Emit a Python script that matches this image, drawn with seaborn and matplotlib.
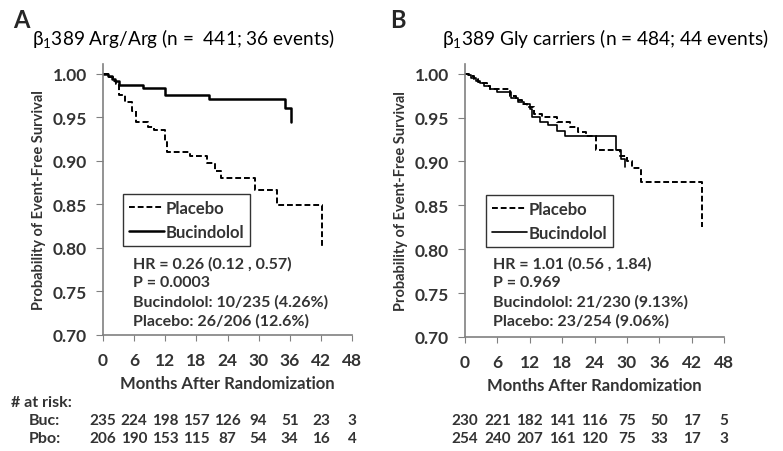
import matplotlib
matplotlib.use("Agg")
import matplotlib.pyplot as plt
import seaborn as sns
import pandas as pd

# Panel A: beta1 389 Arg/Arg
a_buc_months = [0, 1.0, 1.8, 2.4, 3.0, 7.8, 12.0, 20.5, 35.1, 36.2]
a_buc_surv = [1.0, 0.997, 0.994, 0.991, 0.987, 0.983, 0.975, 0.971, 0.961, 0.945]
a_pbo_months = [0, 1.2, 2.0, 2.6, 3.1, 4.3, 5.5, 6.4, 8.6, 9.8, 11.9, 12.3, 16.8, 20.1, 21.6, 22.8, 29.3, 33.6, 42.3]
a_pbo_surv = [1.0, 0.996, 0.992, 0.988, 0.975, 0.967, 0.957, 0.944, 0.939, 0.935, 0.922, 0.910, 0.905, 0.897, 0.888, 0.880, 0.866, 0.849, 0.802]

# Panel B: beta1 389 Gly carriers
b_buc_months = [0, 0.5, 1.2, 2.0, 2.8, 3.6, 4.6, 5.9, 8.6, 9.8, 11.0, 12.0, 12.4, 13.9, 15.4, 17.0, 18.5, 28.0, 29.0, 29.6]
b_buc_surv = [1.0, 0.998, 0.995, 0.992, 0.989, 0.986, 0.983, 0.979, 0.972, 0.968, 0.965, 0.960, 0.951, 0.945, 0.941, 0.935, 0.929, 0.9125, 0.903, 0.894]
b_pbo_months = [0, 0.8, 1.6, 2.4, 3.2, 4.0, 4.6, 8.3, 9.5, 10.5, 11.5, 12.7, 14.2, 17.0, 19.5, 21.0, 22.5, 24.2, 28.8, 30.0, 31.0, 32.6, 43.9]
b_pbo_surv = [1.0, 0.997, 0.994, 0.991, 0.989, 0.986, 0.983, 0.975, 0.970, 0.966, 0.962, 0.954, 0.951, 0.945, 0.939, 0.934, 0.929, 0.913, 0.906, 0.901, 0.892, 0.877, 0.825]

month_ticks = [0, 6, 12, 18, 24, 30, 36, 42, 48]
surv_ticks = [0.70, 0.75, 0.80, 0.85, 0.90, 0.95, 1.00]

a_risk_buc = [235, 224, 198, 157, 126, 94, 51, 23, 3]
a_risk_pbo = [206, 190, 153, 115, 87, 54, 34, 16, 4]
b_risk_buc = [230, 221, 182, 141, 116, 75, 50, 17, 5]
b_risk_pbo = [254, 240, 207, 161, 120, 75, 33, 17, 3]

a_title = "β$_1$389 Arg/Arg (n =  441; 36 events)"
b_title = "β$_1$389 Gly carriers (n = 484; 44 events)"
a_stats = ["HR = 0.26 (0.12 , 0.57)", "P = 0.0003", "Bucindolol: 10/235 (4.26%)", "Placebo: 26/206 (12.6%)"]
b_stats = ["HR = 1.01 (0.56 , 1.84)", "P = 0.969", "Bucindolol: 21/230 (9.13%)", "Placebo: 23/254 (9.06%)"]

sns.set_style("ticks")
plt.rcParams["font.family"] = ["Lato", "DejaVu Sans"]
plt.rcParams["mathtext.fontset"] = "custom"
plt.rcParams["mathtext.rm"] = "Lato"
plt.rcParams["mathtext.default"] = "rm"

TXT = "#333333"
SPINE = "#808080"

fig = plt.figure(figsize=(7.83, 4.52), dpi=100)
axA = fig.add_axes([103 / 783, 1 - 336 / 452, 249 / 783, 271 / 452])
axB = fig.add_axes([465 / 783, 1 - 338 / 452, 259 / 783, 273 / 452])


def km_panel(ax, pbo_t, pbo_s, buc_t, buc_s, buc_lw):
    pbo = pd.DataFrame({"month": pbo_t, "surv": pbo_s})
    buc = pd.DataFrame({"month": buc_t, "surv": buc_s})
    sns.lineplot(data=pbo, x="month", y="surv", ax=ax, color="black", lw=1.4,
                 linestyle=(0, (3, 1.5)), drawstyle="steps-post", estimator=None,
                 sort=False, label="Placebo")
    sns.lineplot(data=buc, x="month", y="surv", ax=ax, color="black", lw=buc_lw,
                 drawstyle="steps-post", estimator=None, sort=False, label="Bucindolol")
    ax.set_xlim(0, 48)
    ax.set_ylim(0.70, 1.011)
    ax.set_xticks(month_ticks)
    ax.set_yticks(surv_ticks)
    ax.set_yticklabels([f"{v:.2f}" for v in surv_ticks])
    sns.despine(ax=ax)
    for s in ["left", "bottom"]:
        ax.spines[s].set_color(SPINE)
        ax.spines[s].set_linewidth(1.2)
    ax.tick_params(axis="y", direction="out", length=5, color=SPINE, labelsize=12.5,
                   labelcolor=TXT, pad=6.5)
    ax.tick_params(axis="x", direction="out", length=4, color=SPINE, labelsize=12.5,
                   labelcolor=TXT, pad=8)
    for lab in ax.get_xticklabels() + ax.get_yticklabels():
        lab.set_fontweight("bold")
    ax.set_xlabel("Months After Randomization", fontsize=12, color=TXT,
                  fontweight="bold", labelpad=5)
    ax.set_ylabel("Probability of Event-Free Survival", fontsize=10.5, color=TXT,
                  fontweight="bold", labelpad=4.5)
    leg = ax.legend(loc="upper left", bbox_to_anchor=(0.08, 0.52), fancybox=False,
                    edgecolor="#333333", framealpha=1, handlelength=2.1, handletextpad=0.1,
                    fontsize=12, borderpad=0.35, labelspacing=0.5, borderaxespad=0)
    leg.get_frame().set_linewidth(1.0)
    for t in leg.get_texts():
        t.set_color(TXT)
        t.set_fontweight("bold")


km_panel(axA, a_pbo_months, a_pbo_surv, a_buc_months, a_buc_surv, 1.8)
km_panel(axB, b_pbo_months, b_pbo_surv, b_buc_months, b_buc_surv, 1.2)

# hazard ratio / event count annotations
for ax, x0, y0, lines in [(axA, 0.119, 0.266, a_stats), (axB, 0.107, 0.271, b_stats)]:
    for i, line in enumerate(lines):
        ax.text(x0, y0 - i * 0.0705, line, transform=ax.transAxes, fontsize=11.5,
                color=TXT, fontweight="bold", va="center", ha="left")

# titles and panel letters
fig.text(32 / 783, 1 - 45 / 452, a_title, fontsize=13.7, color="black", va="baseline")
fig.text(442 / 783, 1 - 45 / 452, b_title, fontsize=13.8, color="black", va="baseline")
fig.text(13 / 783, 1 - 28 / 452, "A", fontsize=17, fontweight="bold", va="baseline")
fig.text(390 / 783, 1 - 28 / 452, "B", fontsize=17, fontweight="bold", va="baseline")

# numbers at risk
fig.text(11 / 783, 1 - 403 / 452, "# at risk:", fontsize=11.5, color=TXT,
         fontweight="bold", va="center")
fig.text(29 / 783, 1 - 421 / 452, "Buc:", fontsize=11.5, color=TXT, fontweight="bold", va="center")
fig.text(29 / 783, 1 - 439 / 452, "Pbo:", fontsize=11.5, color=TXT, fontweight="bold", va="center")
for ax, rows in [(axA, [a_risk_buc, a_risk_pbo]), (axB, [b_risk_buc, b_risk_pbo])]:
    trans = matplotlib.transforms.blended_transform_factory(ax.transData, fig.transFigure)
    for row, ypix in zip(rows, [421, 439]):
        for m, n in zip(month_ticks, row):
            ax.text(m, 1 - ypix / 452, str(n), transform=trans, fontsize=11, color=TXT,
                    fontweight="bold", ha="center", va="center", clip_on=False)

fig.savefig("out.png", dpi=100)
